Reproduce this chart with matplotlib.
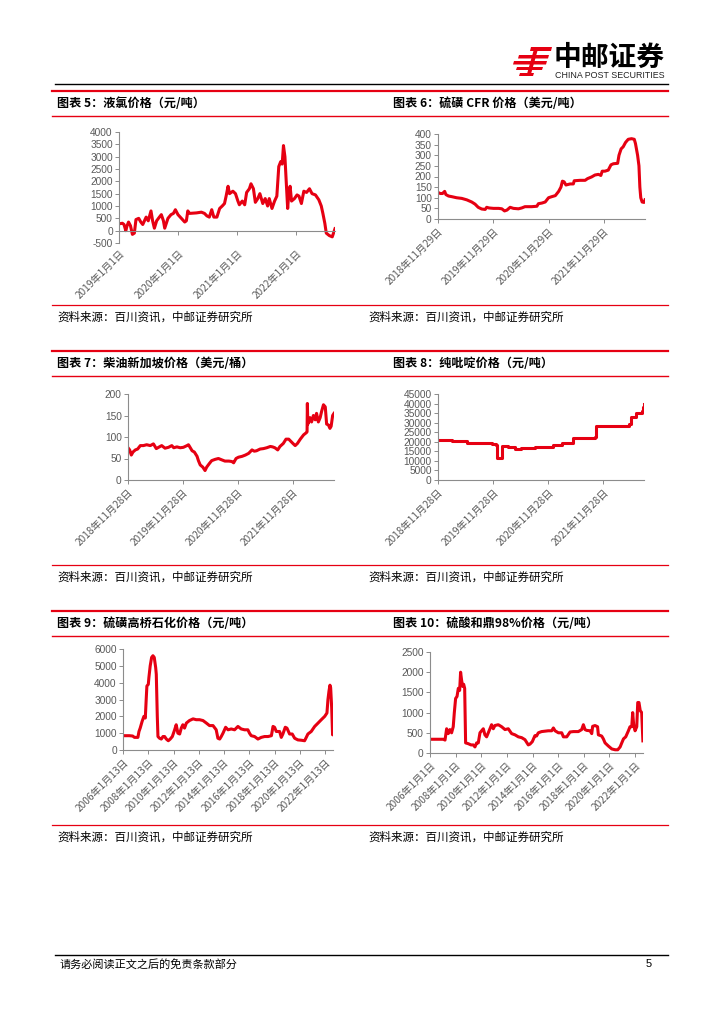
import matplotlib
matplotlib.use("Agg")
import matplotlib.pyplot as plt
from matplotlib.lines import Line2D
from matplotlib.patches import Polygon
import pandas as pd

plt.rcParams['font.family'] = ['Noto Sans CJK SC', 'DejaVu Sans']

W, H = 724, 1024
RED = '#E60012'
GREY = '#595959'
AXIS = '#8C8C8C'

# ---------------- data ----------------
lcl_price = [  # 液氯 元/吨
    ("2019-01-04", 280), ("2019-01-22", 300), ("2019-02-01", 250), ("2019-02-12", 0),
    ("2019-02-20", 200), ("2019-03-01", 350), ("2019-03-13", 200), ("2019-03-25", -150),
    ("2019-04-06", -100), ("2019-04-16", 450), ("2019-05-03", 500), ("2019-05-16", 350),
    ("2019-05-28", 250), ("2019-06-18", 550), ("2019-07-01", 400), ("2019-07-18", 800),
    ("2019-07-28", 400), ("2019-08-08", 100), ("2019-08-22", 400), ("2019-09-08", 550),
    ("2019-09-20", 650), ("2019-10-03", 400), ("2019-10-11", 100), ("2019-10-31", 500),
    ("2019-11-19", 650), ("2019-12-04", 700), ("2019-12-16", 850), ("2020-01-01", 650),
    ("2020-01-22", 500), ("2020-02-12", 350), ("2020-02-22", 400), ("2020-03-02", 800),
    ("2020-03-13", 700), ("2020-04-24", 720), ("2020-05-25", 750), ("2020-06-13", 700),
    ("2020-06-28", 600), ("2020-07-13", 550), ("2020-07-28", 850), ("2020-08-10", 550),
    ("2020-08-29", 550), ("2020-09-15", 900), ("2020-10-01", 1000), ("2020-10-15", 1100),
    ("2020-10-25", 1400), ("2020-11-06", 1800), ("2020-11-15", 1500), ("2020-12-06", 1600),
    ("2020-12-22", 1500), ("2021-01-06", 1200), ("2021-01-15", 1050), ("2021-02-02", 1200),
    ("2021-02-17", 1050), ("2021-03-01", 1550), ("2021-03-18", 1700), ("2021-03-28", 1900),
    ("2021-04-12", 1700), ("2021-04-24", 1150), ("2021-05-09", 1300), ("2021-05-22", 1500),
    ("2021-06-09", 1100), ("2021-06-24", 1300), ("2021-07-09", 1000), ("2021-07-19", 1300),
    ("2021-08-05", 900), ("2021-08-21", 1200), ("2021-09-04", 1400), ("2021-09-16", 2600),
    ("2021-09-28", 2800), ("2021-10-07", 2700), ("2021-10-15", 3450), ("2021-10-24", 3000),
    ("2021-11-01", 2000), ("2021-11-10", 900), ("2021-11-18", 1600), ("2021-11-25", 1800),
    ("2021-12-04", 1200), ("2021-12-22", 1300), ("2022-01-07", 1450), ("2022-01-19", 1400),
    ("2022-02-03", 1100), ("2022-02-18", 1600), ("2022-03-07", 1550), ("2022-03-25", 1700),
    ("2022-04-10", 1500), ("2022-05-01", 1450), ("2022-05-22", 1250), ("2022-06-06", 1000),
    ("2022-06-16", 700), ("2022-06-28", 300), ("2022-07-07", -100), ("2022-07-26", -200),
    ("2022-08-13", -250), ("2022-08-30", 80),
]

sulfur_cfr = [  # 硫磺CFR 美元/吨
    ("2018-11-29", 125), ("2018-12-14", 120), ("2018-12-29", 120), ("2019-01-12", 130),
    ("2019-01-20", 115), ("2019-02-07", 108), ("2019-03-01", 105), ("2019-04-01", 100),
    ("2019-05-05", 97), ("2019-06-08", 90), ("2019-07-10", 80), ("2019-08-01", 70),
    ("2019-08-22", 55), ("2019-09-14", 47), ("2019-10-07", 45), ("2019-10-17", 55),
    ("2019-11-01", 52), ("2019-12-01", 50), ("2020-01-04", 50), ("2020-01-25", 48),
    ("2020-02-12", 38), ("2020-02-28", 42), ("2020-03-20", 55), ("2020-04-11", 50),
    ("2020-05-14", 48), ("2020-06-05", 52), ("2020-06-26", 58), ("2020-08-10", 58),
    ("2020-09-13", 60), ("2020-09-23", 72), ("2020-10-16", 75), ("2020-11-07", 80),
    ("2020-11-29", 100), ("2020-12-20", 105), ("2021-01-13", 110), ("2021-02-04", 130),
    ("2021-02-19", 150), ("2021-03-01", 178), ("2021-03-12", 175), ("2021-03-24", 160),
    ("2021-04-21", 165), ("2021-05-12", 165), ("2021-05-18", 180), ("2021-06-26", 182),
    ("2021-07-29", 182), ("2021-08-14", 190), ("2021-09-10", 198), ("2021-10-02", 207),
    ("2021-10-25", 210), ("2021-11-10", 205), ("2021-11-19", 225), ("2021-12-07", 225),
    ("2021-12-29", 230), ("2022-01-16", 255), ("2022-02-01", 260), ("2022-03-01", 262),
    ("2022-03-10", 300), ("2022-03-24", 330), ("2022-04-07", 340), ("2022-04-22", 360),
    ("2022-05-10", 375), ("2022-06-01", 378), ("2022-06-19", 375), ("2022-06-27", 355),
    ("2022-07-11", 300), ("2022-07-20", 250), ("2022-07-26", 150), ("2022-08-01", 100),
    ("2022-08-10", 80), ("2022-08-23", 78), ("2022-08-29", 90),
]

diesel_sg = [  # 柴油新加坡 美元/桶
    ("2018-11-28", 75), ("2018-12-09", 70), ("2018-12-20", 58), ("2018-12-31", 65),
    ("2019-01-16", 70), ("2019-01-31", 72), ("2019-02-18", 80), ("2019-03-10", 80),
    ("2019-04-01", 82), ("2019-04-25", 80), ("2019-05-16", 84), ("2019-06-04", 73),
    ("2019-06-19", 76), ("2019-07-10", 80), ("2019-08-01", 74), ("2019-08-24", 76),
    ("2019-09-15", 80), ("2019-09-28", 75), ("2019-10-19", 77), ("2019-11-10", 75),
    ("2019-12-01", 76), ("2019-12-25", 80), ("2020-01-04", 82), ("2020-01-16", 75),
    ("2020-01-28", 68), ("2020-02-12", 65), ("2020-03-01", 55), ("2020-03-10", 45),
    ("2020-03-22", 35), ("2020-04-08", 30), ("2020-04-23", 22), ("2020-05-04", 30),
    ("2020-05-21", 38), ("2020-06-06", 45), ("2020-06-29", 48), ("2020-07-21", 50),
    ("2020-08-11", 47), ("2020-09-02", 44), ("2020-09-28", 44), ("2020-10-18", 43),
    ("2020-10-30", 40), ("2020-11-15", 50), ("2020-12-01", 53), ("2020-12-25", 55),
    ("2021-01-16", 58), ("2021-02-07", 62), ("2021-03-01", 70), ("2021-03-16", 67),
    ("2021-03-31", 68), ("2021-04-24", 72), ("2021-05-16", 73), ("2021-06-07", 75),
    ("2021-07-01", 78), ("2021-07-16", 77), ("2021-07-31", 75), ("2021-08-19", 70),
    ("2021-09-03", 78), ("2021-09-25", 85), ("2021-10-13", 95), ("2021-10-31", 95),
    ("2021-11-14", 90), ("2021-11-28", 85), ("2021-12-13", 80), ("2021-12-28", 85),
    ("2022-01-16", 95), ("2022-02-07", 105), ("2022-02-25", 110), ("2022-03-02", 112),
    ("2022-03-04", 178), ("2022-03-07", 130), ("2022-03-22", 145), ("2022-04-01", 135),
    ("2022-04-13", 150), ("2022-04-25", 140), ("2022-05-04", 155), ("2022-05-16", 135),
    ("2022-05-28", 145), ("2022-06-07", 160), ("2022-06-19", 175), ("2022-07-01", 170),
    ("2022-07-10", 130), ("2022-07-22", 128), ("2022-08-01", 120), ("2022-08-09", 125),
    ("2022-08-19", 150), ("2022-08-28", 155),
]

pyridine = [  # 纯吡啶 元/吨 (step quotes)
    ("2018-11-28", 21000), ("2019-03-04", 20500), ("2019-06-07", 19500), ("2019-11-20", 19000),
    ("2019-12-15", 18500), ("2019-12-26", 11500), ("2020-01-24", 18000), ("2020-02-10", 17800),
    ("2020-03-08", 17300), ("2020-04-20", 16300), ("2020-06-03", 16800), ("2020-07-18", 17000),
    ("2020-08-31", 17500), ("2020-12-31", 18500), ("2021-02-24", 19500), ("2021-05-10", 22000),
    ("2021-10-01", 22500), ("2021-10-12", 28000), ("2022-05-01", 28500), ("2022-05-15", 29500),
    ("2022-05-31", 33000), ("2022-07-01", 35000), ("2022-08-10", 36000), ("2022-08-18", 38000),
    ("2022-08-22", 40000), ("2022-08-25", 40000),
]

sulfur_gq = [  # 硫磺高桥石化 元/吨
    ("2006-01-13", 850), ("2006-07-15", 850), ("2006-10-20", 830), ("2006-12-10", 750),
    ("2007-03-20", 750), ("2007-04-20", 1100), ("2007-05-25", 1300), ("2007-07-20", 1700),
    ("2007-09-10", 2000), ("2007-10-20", 1900), ("2007-11-15", 3000), ("2007-12-05", 3800),
    ("2008-01-15", 3900), ("2008-02-01", 4300), ("2008-03-10", 5000), ("2008-04-20", 5500),
    ("2008-05-28", 5600), ("2008-07-05", 5500), ("2008-08-15", 4900), ("2008-09-02", 4500),
    ("2008-10-01", 2000), ("2008-10-20", 800), ("2008-12-05", 700), ("2009-01-25", 650),
    ("2009-03-15", 800), ("2009-05-01", 800), ("2009-06-20", 650), ("2009-08-15", 550),
    ("2009-10-10", 650), ("2009-12-10", 800), ("2010-02-15", 1200), ("2010-04-01", 1500),
    ("2010-05-20", 1000), ("2010-07-10", 950), ("2010-08-25", 1300), ("2010-10-10", 1500),
    ("2010-11-28", 1300), ("2011-01-20", 1600), ("2011-04-20", 1750), ("2011-08-01", 1850),
    ("2011-11-01", 1800), ("2012-02-05", 1800), ("2012-05-15", 1750), ("2012-08-20", 1600),
    ("2012-11-20", 1450), ("2013-03-01", 1450), ("2013-06-01", 1200), ("2013-07-20", 700),
    ("2013-09-10", 650), ("2013-10-25", 800), ("2013-12-15", 1000), ("2014-03-01", 1350),
    ("2014-05-10", 1200), ("2014-08-10", 1250), ("2014-11-15", 1200), ("2015-02-20", 1400),
    ("2015-05-25", 1250), ("2015-09-01", 1200), ("2015-12-05", 1200), ("2016-01-20", 1000),
    ("2016-03-10", 850), ("2016-06-15", 800), ("2016-09-20", 650), ("2016-12-25", 750),
    ("2017-04-01", 800), ("2017-07-10", 800), ("2017-10-15", 850), ("2017-12-01", 1400),
    ("2018-01-15", 1350), ("2018-03-05", 1100), ("2018-06-10", 1100), ("2018-07-28", 750),
    ("2018-09-12", 950), ("2018-11-20", 1350), ("2019-01-08", 1300), ("2019-03-25", 950),
    ("2019-06-10", 950), ("2019-08-18", 700), ("2019-11-20", 600), ("2020-02-28", 580),
    ("2020-06-01", 550), ("2020-07-20", 750), ("2020-09-05", 950), ("2020-12-10", 1100),
    ("2021-03-20", 1400), ("2021-06-25", 1600), ("2021-09-28", 1800), ("2022-01-05", 2000),
    ("2022-03-10", 2200), ("2022-04-08", 3000), ("2022-05-08", 3500), ("2022-06-05", 3850),
    ("2022-06-25", 3700), ("2022-07-25", 2500), ("2022-08-20", 900), ("2022-09-01", 1000),
]

sulfuric_acid = [  # 硫酸和鼎98% 元/吨
    ("2006-01-01", 340), ("2006-07-08", 340), ("2007-01-15", 340), ("2007-03-05", 320),
    ("2007-04-20", 600), ("2007-06-05", 480), ("2007-07-22", 580), ("2007-09-08", 500),
    ("2007-10-25", 650), ("2007-11-25", 1000), ("2008-01-01", 1350), ("2008-02-10", 1400),
    ("2008-03-18", 1600), ("2008-04-25", 1550), ("2008-05-22", 2000), ("2008-06-20", 1800),
    ("2008-07-18", 1650), ("2008-08-18", 1700), ("2008-09-15", 1600), ("2008-10-12", 250),
    ("2008-12-28", 230), ("2009-03-15", 200), ("2009-05-18", 200), ("2009-07-05", 150),
    ("2009-08-22", 250), ("2009-10-08", 250), ("2009-11-25", 500), ("2010-01-10", 550),
    ("2010-02-28", 600), ("2010-04-15", 450), ("2010-06-02", 400), ("2010-07-20", 500),
    ("2010-09-05", 600), ("2010-10-22", 700), ("2010-12-10", 600), ("2011-01-25", 680),
    ("2011-05-01", 700), ("2011-08-05", 650), ("2011-11-08", 580), ("2012-02-10", 600),
    ("2012-05-15", 480), ("2012-08-18", 450), ("2012-11-22", 400), ("2013-02-25", 380),
    ("2013-05-30", 330), ("2013-09-02", 200), ("2013-10-20", 220), ("2013-12-25", 280),
    ("2014-03-10", 430), ("2014-04-25", 420), ("2014-06-15", 500), ("2014-09-15", 530),
    ("2014-12-20", 540), ("2015-03-25", 550), ("2015-07-01", 550), ("2015-08-18", 620),
    ("2015-10-05", 550), ("2016-01-08", 500), ("2016-04-12", 500), ("2016-05-30", 400),
    ("2016-09-02", 400), ("2016-12-05", 520), ("2017-03-10", 530), ("2017-07-30", 530),
    ("2017-11-02", 580), ("2017-12-20", 700), ("2018-02-05", 580), ("2018-03-25", 560),
    ("2018-06-28", 550), ("2018-08-15", 480), ("2018-09-10", 660), ("2018-11-18", 680),
    ("2019-01-28", 650), ("2019-02-20", 450), ("2019-05-25", 420), ("2019-07-12", 350),
    ("2019-08-30", 250), ("2019-12-05", 170), ("2020-03-10", 100), ("2020-06-12", 80),
    ("2020-08-25", 80), ("2020-11-01", 150), ("2020-12-18", 250), ("2021-02-05", 350),
    ("2021-04-10", 400), ("2021-06-25", 550), ("2021-08-10", 650), ("2021-09-28", 650),
    ("2021-10-25", 1000), ("2021-11-22", 700), ("2022-01-01", 550), ("2022-02-18", 650),
    ("2022-03-18", 1250), ("2022-04-22", 1250), ("2022-05-28", 1050), ("2022-07-08", 1000),
    ("2022-08-12", 300),
]

titles = [
    "图表 5：液氯价格（元/吨）",
    "图表 6：硫磺 CFR 价格（美元/吨）",
    "图表 7：柴油新加坡价格（美元/桶）",
    "图表 8：纯吡啶价格（元/吨）",
    "图表 9：硫磺高桥石化价格（元/吨）",
    "图表 10：硫酸和鼎98%价格（元/吨）",
]
source_text = "资料来源：百川资讯，中邮证券研究所"
footer_text = "请务必阅读正文之后的免责条款部分"
page_no = "5"

ticks_5 = ["2019-01-01", "2020-01-01", "2021-01-01", "2022-01-01"]
ticks_6 = ["2018-11-29", "2019-11-29", "2020-11-29", "2021-11-29"]
ticks_78 = ["2018-11-28", "2019-11-28", "2020-11-28", "2021-11-28"]
ticks_9 = ["2006-01-13", "2008-01-13", "2010-01-13", "2012-01-13", "2014-01-13",
           "2016-01-13", "2018-01-13", "2020-01-13", "2022-01-13"]
ticks_10 = ["2006-01-01", "2008-01-01", "2010-01-01", "2012-01-01", "2014-01-01",
            "2016-01-01", "2018-01-01", "2020-01-01", "2022-01-01"]


def fx(x):
    return x / W


def fy(y):
    return 1 - y / H


def hline(fig, x0, x1, y, color, lw):
    fig.add_artist(Line2D([fx(x0), fx(x1)], [fy(y), fy(y)], color=color, lw=lw,
                          transform=fig.transFigure))


def cn_date(s):
    d = pd.Timestamp(s)
    return f"{d.year}年{d.month}月{d.day}日"


def panel(fig, box, series, ylim, ystep, ticks, xmax, step=False, zero_axis=False):
    l, t, r, b = box
    ax = fig.add_axes([fx(l), fy(b), (r - l) / W, (b - t) / H])
    # move the spine first: set_position resets the tick label settings
    if zero_axis:
        ax.spines['bottom'].set_position(('data', 0))
    dates = pd.to_datetime([d for d, _ in series])
    vals = [v for _, v in series]
    ax.plot(dates, vals, color=RED, lw=2.2,
            drawstyle='steps-post' if step else 'default', solid_joinstyle='round')
    ax.set_xlim(pd.Timestamp(ticks[0]), pd.Timestamp(xmax))
    ax.set_ylim(*ylim)
    yt = list(range(ylim[0], ylim[1] + 1, ystep))
    ax.set_yticks(yt)
    ax.set_yticklabels([str(v) for v in yt], fontsize=7.3, color=GREY,
                       family=['Liberation Sans'])
    ax.set_xticks(pd.to_datetime(ticks))
    ax.set_xticklabels([cn_date(s) for s in ticks], rotation=45, ha='right',
                       rotation_mode='anchor', fontsize=7.3, color=GREY)
    for s in ['top', 'right']:
        ax.spines[s].set_visible(False)
    for s in ['left', 'bottom']:
        ax.spines[s].set_color(AXIS)
        ax.spines[s].set_linewidth(0.8)
    ax.tick_params(axis='both', length=3, width=0.7, color=AXIS)
    ax.tick_params(axis='y', pad=1.5)
    ax.tick_params(axis='x', pad=10 if zero_axis else 2)
    ax.patch.set_alpha(0)
    return ax


fig = plt.figure(figsize=(W / 100, H / 100), dpi=100)
fig.patch.set_facecolor('white')

# header logo
emblem = [
    [(531, 47), (552, 47), (551, 51), (530, 51)],
    [(519, 55), (549, 55), (548, 58.5), (518, 58.5)],
    [(514, 61), (547, 61), (546, 64.5), (513, 64.5)],
    [(517, 67), (543, 67), (542, 70), (516, 70)],
    [(534, 49), (538, 49), (531, 74), (527, 74)],
    [(520, 73), (534, 73), (533, 76), (519, 76)],
]
for pts in emblem:
    fig.add_artist(Polygon([(fx(x), fy(y)) for x, y in pts], closed=True,
                           color=RED, transform=fig.transFigure, lw=0))
fig.text(fx(554), fy(58), "中邮证券", fontsize=20, weight='bold', color='black',
         va='center', ha='left')
fig.text(fx(555), fy(75), "CHINA POST SECURITIES", fontsize=6.4, color='#222222',
         va='center', ha='left', family=['Liberation Sans'])
hline(fig, 55, 668, 84, 'black', 1.0)

# block frames
blocks = [(91, 116, 305, 317), (351, 376, 565, 577), (611, 636, 825, 837)]
for i, (top, under, src_line, src_y) in enumerate(blocks):
    hline(fig, 52, 668, top, RED, 1.6)
    hline(fig, 52, 668, under, RED, 1.0)
    hline(fig, 52, 668, src_line, RED, 0.9)
    fig.text(fx(57), fy((top + under) / 2), titles[2 * i], fontsize=8.7, weight='bold',
             va='center', ha='left')
    fig.text(fx(393), fy((top + under) / 2), titles[2 * i + 1], fontsize=8.7, weight='bold',
             va='center', ha='left')
    fig.text(fx(57), fy(src_y), source_text, fontsize=8.3, va='center', ha='left')
    fig.text(fx(368), fy(src_y), source_text, fontsize=8.3, va='center', ha='left')

panel(fig, (119, 132, 335, 243), lcl_price, (-500, 4000), 500, ticks_5, "2022-08-30",
      zero_axis=True)
panel(fig, (438, 134, 645, 219), sulfur_cfr, (0, 400), 50, ticks_6, "2022-08-29")
panel(fig, (128, 394, 334, 480), diesel_sg, (0, 200), 50, ticks_78, "2022-08-28")
panel(fig, (438, 394, 644, 480), pyridine, (0, 45000), 5000, ticks_78, "2022-08-25",
      step=True)
panel(fig, (123, 649, 333, 750), sulfur_gq, (0, 6000), 1000, ticks_9, "2022-09-01")
panel(fig, (430, 652, 643, 753), sulfuric_acid, (0, 2500), 500, ticks_10, "2022-08-15")

# footer
hline(fig, 55, 668, 955, 'black', 1.0)
fig.text(fx(60), fy(964), footer_text, fontsize=8, va='center', ha='left')
fig.text(fx(652), fy(964), page_no, fontsize=8, va='center', ha='right',
         family=['Liberation Sans'])

fig.savefig("out.png", dpi=100)
